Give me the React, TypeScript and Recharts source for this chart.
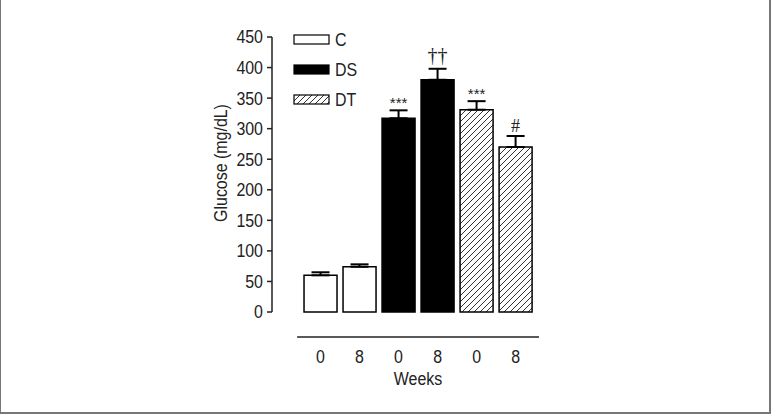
import React from 'react';
import {
  ComposedChart,
  Bar,
  Cell,
  Line,
  XAxis,
  YAxis,
  ErrorBar,
  LabelList,
  ReferenceLine,
  Legend,
} from 'recharts';

// values
const weeks = ['0', '8', '0', '8', '0', '8'];
const groups = ['C', 'C', 'DS', 'DS', 'DT', 'DT'];
const glucose = [60, 74, 317, 380, 331, 270];
const sem = [5, 4, 13, 18, 14, 18];
const marks = ['', '', '***', '††', '***', '#'];
const yTicks = [0, 50, 100, 150, 200, 250, 300, 350, 400, 450];
const legendGroups = ['C', 'DS', 'DT'];

const FONT = "'Liberation Sans Narrow', 'Arial Narrow', 'Liberation Sans', Arial, sans-serif";
const INK = '#222';
const SQUEEZE = 0.84; // Liberation Sans squeezed to look like Arial Narrow

const GROUP_FILL: Record<string, string> = {
  C: '#ffffff',
  DS: '#000000',
  DT: 'url(#hatch)',
};

const data = glucose.map((v, i) => ({
  pos: i,
  week: weeks[i],
  group: groups[i],
  glucose: v,
  err: [0, sem[i]],
  top: v + sem[i],
  mark: marks[i],
}));

// text drawn narrow around its anchor point
const NarrowText = ({ x, y, anchor = 'middle', rotate = 0, size = 19, dy, children }: any) => (
  <g transform={`translate(${x},${y}) rotate(${rotate})`}>
    <text
      transform={`scale(${SQUEEZE},1)`}
      textAnchor={anchor}
      dominantBaseline={dy ? undefined : 'central'}
      dy={dy}
      fontSize={size}
      fontFamily={FONT}
      fill={INK}
    >
      {children}
    </text>
  </g>
);

const YTick = (props: any) => (
  <NarrowText x={props.x} y={props.y} anchor="end">
    {props.payload.value}
  </NarrowText>
);

const XTick = (props: any) => (
  <NarrowText x={props.x} y={props.y} dy="0.71em">
    {weeks[props.payload.value]}
  </NarrowText>
);

const MarkLabel = (props: any) => {
  const { x, y, value } = props;
  if (!value) return null;
  const isStar = value === '***';
  const size = isStar ? 15 : value === '#' ? 18 : 20;
  const lift = isStar ? 2 : value === '#' ? 4 : 7;
  return (
    <text
      x={x}
      y={y - lift}
      textAnchor="middle"
      fontSize={size}
      fontFamily={isStar ? FONT : "'Liberation Serif', 'DejaVu Serif', serif"}
      fill={INK}
    >
      {value}
    </text>
  );
};

const LegendBoxes = () => (
  <svg width={90} height={85}>
    {legendGroups.map((g, i) => (
      <g key={g}>
        <rect
          x={1}
          y={5 + i * 30}
          width={35}
          height={9}
          fill={GROUP_FILL[g]}
          stroke="#000"
          strokeWidth={1.2}
        />
        <NarrowText x={42} y={10 + i * 30} anchor="start">
          {g}
        </NarrowText>
      </g>
    ))}
  </svg>
);

export default function App() {
  return (
    <div
      style={{
        position: 'absolute',
        left: 0,
        top: 0,
        width: 771,
        height: 414,
        background: '#fff',
        boxSizing: 'border-box',
        borderLeft: '1px solid #777',
        borderRight: '2px solid #777',
        borderBottom: '2px solid #777',
      }}
    >
      <div style={{ position: 'absolute', left: -1, top: 0 }}>
        <ComposedChart
          width={771}
          height={414}
          data={data}
          margin={{ top: 37, right: 232, bottom: 32, left: 212 }}
        >
          <defs>
            <pattern id="hatch" patternUnits="userSpaceOnUse" width={6} height={6}>
              <rect width={6} height={6} fill="#fff" />
              <path
                d="M0,6 L6,0 M-1,1 L1,-1 M5,7 L7,5"
                stroke="#333"
                strokeWidth={1}
              />
            </pattern>
          </defs>
          <XAxis
            type="number"
            dataKey="pos"
            domain={[-1.244, 5.6]}
            allowDataOverflow
            ticks={[0, 1, 2, 3, 4, 5]}
            axisLine={false}
            tickLine={false}
            tickSize={0}
            tickMargin={37}
            height={70}
            tick={<XTick />}
            label={() => (
              <NarrowText x={418} y={379}>
                Weeks
              </NarrowText>
            )}
          />
          <YAxis
            domain={[0, 450]}
            ticks={yTicks}
            width={60}
            axisLine={{ stroke: INK, strokeWidth: 1.5 }}
            tickLine={{ stroke: INK, strokeWidth: 1.5 }}
            tickSize={5}
            tickMargin={4}
            interval={0}
            tick={<YTick />}
            label={() => (
              <NarrowText x={221} y={163} rotate={-90}>
                Glucose (mg/dL)
              </NarrowText>
            )}
          />
          <Legend
            layout="vertical"
            align="center"
            verticalAlign="middle"
            content={() => <LegendBoxes />}
            wrapperStyle={{ position: 'absolute', left: 293, top: 30, width: 90, height: 85 }}
          />
          <ReferenceLine
            segment={[
              { x: -0.6, y: -41 },
              { x: 5.6, y: -41 },
            ]}
            ifOverflow="visible"
            stroke={INK}
            strokeWidth={1.5}
          />
          <Bar
            dataKey="glucose"
            barSize={33}
            stroke="#000"
            strokeWidth={1.5}
            isAnimationActive={false}
          >
            {data.map((d, i) => (
              <Cell key={i} fill={GROUP_FILL[d.group]} />
            ))}
            <ErrorBar dataKey="err" width={9} stroke="#000" strokeWidth={2} direction="y" />
          </Bar>
          <Line
            dataKey="top"
            stroke="none"
            dot={false}
            activeDot={false}
            isAnimationActive={false}
          >
            <LabelList dataKey="mark" content={<MarkLabel />} />
          </Line>
        </ComposedChart>
      </div>
    </div>
  );
}
